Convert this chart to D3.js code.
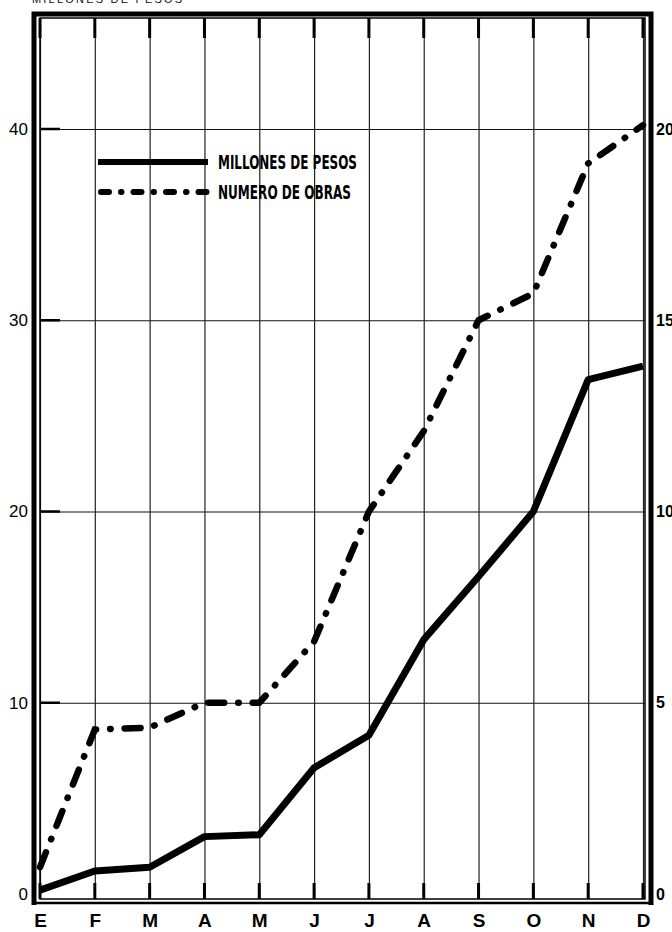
<!DOCTYPE html>
<html>
<head>
<meta charset="utf-8">
<script src="https://cdn.jsdelivr.net/npm/d3@7"></script>
<style>
  body { margin: 0; background: #fff; }
  svg { display: block; }
</style>
</head>
<body>
<div id="chart"></div>
<script>
// Month initials along the bottom
var months = ["E","F","M","A","M","J","J","A","S","O","N","D"];

// Millones de pesos (left scale)
var pesos = [0.2, 1.2, 1.4, 3.0, 3.1, 6.6, 8.3, 13.3, 16.6, 20.0, 26.9, 27.6];

// Numero de obras (right scale)
var obras = [0.7, 4.3, 4.35, 5.0, 5.0, 6.6, 10.0, 12.1, 15.0, 15.7, 19.1, 20.1];

// Tick labels
var leftTicks = [0, 10, 20, 30, 40];
var rightTicks = [0, 5, 10, 15, 20];

var width = 672, height = 932;

// Inner plot box
var box = {left: 40, right: 645, top: 18, bottom: 899};

var svg = d3.select("#chart")
            .append("svg")
            .attr("width", width)
            .attr("height", height);

// Scales
var xScale = d3.scalePoint()
                .domain(d3.range(months.length))
                .range([box.left, box.right - 2]);

var yLeft = d3.scaleLinear()
                .domain([0, 40])
                .range([894, 129]);

var yRight = d3.scaleLinear()
                .domain([0, 20])
                .range([894, 129]);

// Header text, cut by the top of the page
svg.append("text")
    .attr("x", 32)
    .attr("y", 3)
    .attr("font-family", "Liberation Sans, sans-serif")
    .attr("font-size", "11px")
    .attr("letter-spacing", "2.2px")
    .attr("fill", "#111")
    .text("MILLONES DE PESOS");

// Horizontal grid lines
svg.append("g")
    .attr("transform", "translate(" + box.left + ",0)")
    .call(d3.axisRight(yLeft)
            .tickValues(leftTicks.filter(function(d) { return d > 0; }))
            .tickSize(box.right - box.left)
            .tickFormat(""))
    .call(function(g) {
        g.select(".domain").remove();
        g.selectAll("line").attr("stroke", "#111").attr("stroke-width", 1.2);
    });

// short heavy ticks on the left edge
svg.append("g")
    .selectAll("line")
    .data(leftTicks.filter(function(d) { return d > 0; }))
    .enter()
    .append("line")
        .attr("x1", box.left)
        .attr("x2", box.left + 20)
        .attr("y1", function(d) { return yLeft(d); })
        .attr("y2", function(d) { return yLeft(d); })
        .attr("stroke", "#000")
        .attr("stroke-width", 2.5);

// Vertical grid lines, one for each month
svg.append("g")
    .attr("transform", "translate(0," + box.top + ")")
    .call(d3.axisBottom(xScale)
            .tickSize(box.bottom - box.top)
            .tickFormat(""))
    .call(function(g) {
        g.select(".domain").remove();
        g.selectAll("line").attr("stroke", "#222").attr("stroke-width", 1.2);
    });

// heavy tick segments at top and bottom of each month line
var xTicks = svg.append("g");
xTicks.selectAll(".top-tick")
    .data(d3.range(months.length))
    .enter()
    .append("line")
        .attr("class", "top-tick")
        .attr("x1", function(d) { return xScale(d); })
        .attr("x2", function(d) { return xScale(d); })
        .attr("y1", box.top)
        .attr("y2", box.top + 20)
        .attr("stroke", "#000")
        .attr("stroke-width", 3);
xTicks.selectAll(".bottom-tick")
    .data(d3.range(months.length))
    .enter()
    .append("line")
        .attr("class", "bottom-tick")
        .attr("x1", function(d) { return xScale(d); })
        .attr("x2", function(d) { return xScale(d); })
        .attr("y1", box.bottom - 16)
        .attr("y2", box.bottom)
        .attr("stroke", "#000")
        .attr("stroke-width", 3);

// Frame: thin inner box plus heavy outer border
svg.append("rect")
    .attr("x", box.left)
    .attr("y", box.top)
    .attr("width", box.right - box.left)
    .attr("height", box.bottom - box.top)
    .attr("fill", "none")
    .attr("stroke", "#000")
    .attr("stroke-width", 1.5);

svg.append("path")
    .attr("d", "M34,905 L34,14 L651,14 L651,905")
    .attr("fill", "none")
    .attr("stroke", "#000")
    .attr("stroke-width", 5);

svg.append("line")
    .attr("x1", 34).attr("x2", 651)
    .attr("y1", 903).attr("y2", 903)
    .attr("stroke", "#000")
    .attr("stroke-width", 2.5);

// Left axis labels
svg.append("g")
    .attr("transform", "translate(28,0)")
    .call(d3.axisLeft(yLeft).tickValues(leftTicks).tickSize(0).tickPadding(0))
    .call(function(g) {
        g.select(".domain").remove();
        g.selectAll("text")
            .attr("font-family", "Liberation Sans, Arial, sans-serif")
            .attr("font-size", "17px")
            .attr("fill", "#000");
    });

// Right axis labels
svg.append("g")
    .attr("transform", "translate(656,0)")
    .call(d3.axisRight(yRight).tickValues(rightTicks).tickSize(0).tickPadding(0))
    .call(function(g) {
        g.select(".domain").remove();
        g.selectAll("text")
            .attr("font-family", "Liberation Sans Narrow, Liberation Sans, sans-serif")
            .attr("font-weight", "bold")
            .attr("font-size", "16px")
            .attr("fill", "#000");
    });

// Month labels
svg.append("g")
    .attr("transform", "translate(0,913)")
    .call(d3.axisBottom(xScale)
            .tickSize(0)
            .tickPadding(0)
            .tickFormat(function(i) { return months[i]; }))
    .call(function(g) {
        g.select(".domain").remove();
        g.selectAll("text")
            .attr("font-family", "Liberation Sans, Arial, sans-serif")
            .attr("font-weight", "bold")
            .attr("font-size", "19px")
            .attr("fill", "#000");
    });

// Line generators
var linePesos = d3.line()
                  .x(function(d, i) { return xScale(i); })
                  .y(function(d) { return yLeft(d); });

var lineObras = d3.line()
                  .x(function(d, i) { return xScale(i); })
                  .y(function(d) { return yRight(d); });

var dashDot = "16,14,0.5,14";

svg.append("path")
    .datum(obras)
    .attr("d", lineObras)
    .attr("fill", "none")
    .attr("stroke", "#000")
    .attr("stroke-width", 6.5)
    .attr("stroke-linecap", "round")
    .attr("stroke-dasharray", dashDot);

svg.append("path")
    .datum(pesos)
    .attr("d", linePesos)
    .attr("fill", "none")
    .attr("stroke", "#000")
    .attr("stroke-width", 7)
    .attr("stroke-linejoin", "round");

// Legend
var legend = svg.append("g");

legend.append("line")
    .attr("x1", 98).attr("x2", 208)
    .attr("y1", 162).attr("y2", 162)
    .attr("stroke", "#000")
    .attr("stroke-width", 6);

legend.append("line")
    .attr("x1", 101).attr("x2", 208)
    .attr("y1", 192).attr("y2", 192)
    .attr("stroke", "#000")
    .attr("stroke-width", 6)
    .attr("stroke-linecap", "round")
    .attr("stroke-dasharray", "8,12,0.5,12");

legend.append("text")
    .attr("x", 218)
    .attr("y", 169)
    .attr("font-family", "Liberation Sans Narrow, DejaVu Sans Condensed, sans-serif")
    .attr("font-weight", "bold")
    .attr("font-size", "19px")
    .attr("textLength", 139)
    .attr("lengthAdjust", "spacingAndGlyphs")
    .text("MILLONES DE PESOS");

legend.append("text")
    .attr("x", 218)
    .attr("y", 199)
    .attr("font-family", "Liberation Sans Narrow, DejaVu Sans Condensed, sans-serif")
    .attr("font-weight", "bold")
    .attr("font-size", "19px")
    .attr("textLength", 133)
    .attr("lengthAdjust", "spacingAndGlyphs")
    .text("NUMERO DE OBRAS");
</script>
</body>
</html>
